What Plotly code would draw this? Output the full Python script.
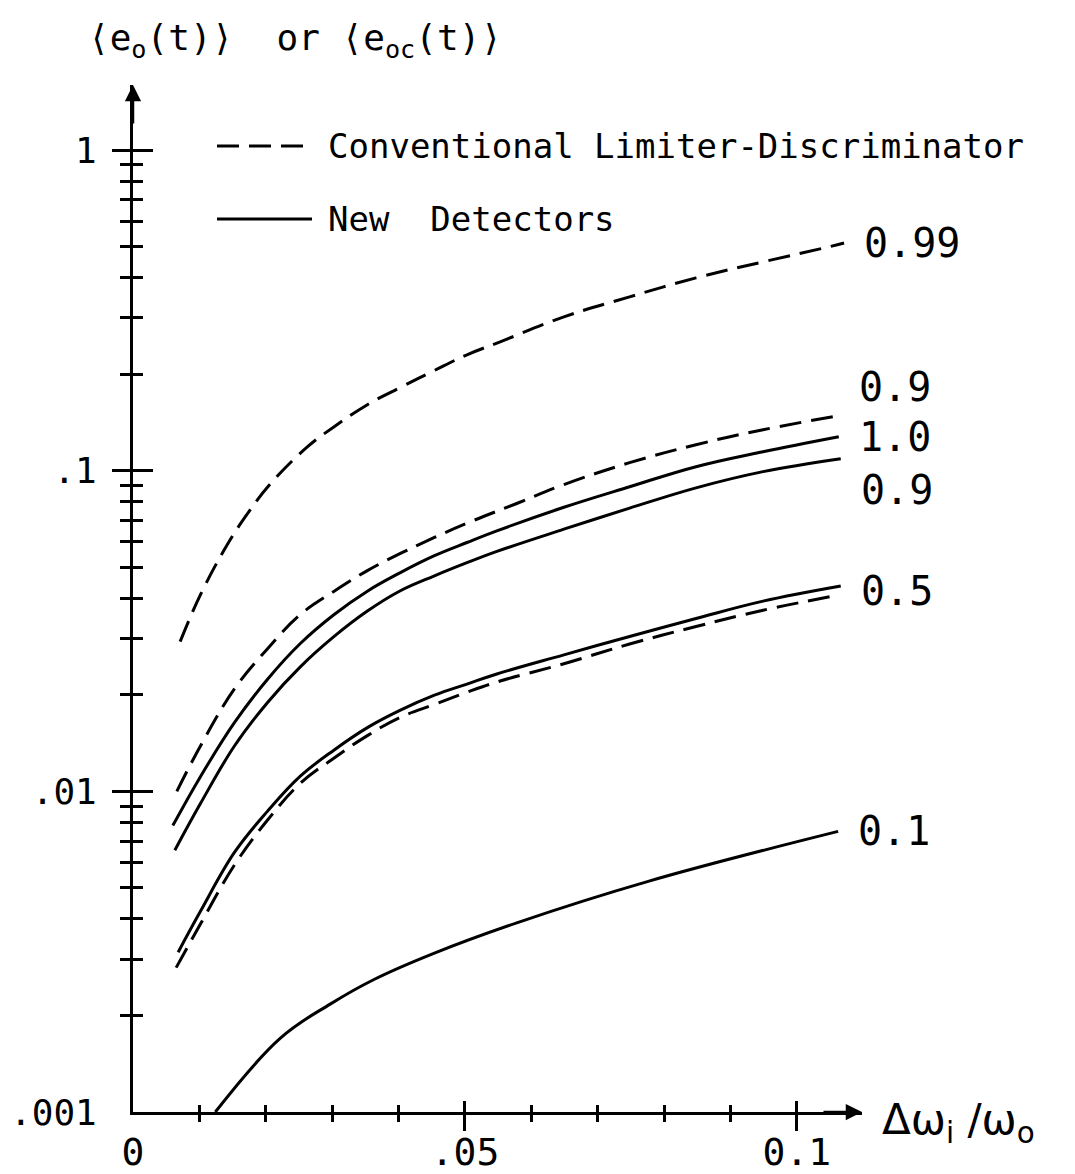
import math
import plotly.graph_objects as go

# ---------------------------------------------------------------------------
# Mean output error <e_o(t)> / <e_oc(t)> versus normalized offset dw_i / w_o
# ---------------------------------------------------------------------------

# Conventional limiter-discriminator (dashed)
conv_099_x = [0.0071, 0.0102, 0.0143, 0.0173, 0.0207, 0.0263, 0.0303, 0.0353, 0.0402,
              0.0454, 0.0503, 0.0553, 0.0649, 0.0748, 0.0848, 0.0949, 0.1048, 0.1071]
conv_099_y = [0.0293, 0.0412, 0.0593, 0.0737, 0.0910, 0.1188, 0.1371, 0.1606, 0.1815,
              0.2054, 0.2298, 0.2522, 0.3018, 0.3484, 0.3992, 0.4479, 0.4989, 0.5131]

conv_09_x = [0.0066, 0.0102, 0.0153, 0.0203, 0.0252, 0.0303, 0.0353, 0.0402,
             0.0454, 0.0503, 0.0578, 0.0649, 0.0748, 0.0848, 0.0949, 0.1063]
conv_09_y = [0.0100, 0.0139, 0.0209, 0.0279, 0.0356, 0.0421, 0.0488, 0.0551,
             0.0619, 0.0686, 0.0790, 0.0905, 0.1059, 0.1205, 0.1342, 0.1484]

conv_05_x = [0.0065, 0.0102, 0.0153, 0.0203, 0.0252, 0.0303, 0.0353, 0.0402,
             0.0454, 0.0503, 0.0553, 0.0649, 0.0748, 0.0848, 0.0949, 0.1063]
conv_05_y = [0.00282, 0.00387, 0.00590, 0.00815, 0.01059, 0.01271, 0.01492, 0.01700,
             0.01867, 0.02037, 0.02208, 0.02500, 0.02880, 0.03266, 0.03671, 0.04093]

# New detectors (solid)
new_10_x = [0.0060, 0.0102, 0.0153, 0.0203, 0.0252, 0.0303, 0.0353, 0.0402,
            0.0454, 0.0503, 0.0548, 0.0649, 0.0748, 0.0848, 0.0949, 0.1063]
new_10_y = [0.00782, 0.01115, 0.0164, 0.0224, 0.0289, 0.0356, 0.0421, 0.0480,
            0.0543, 0.0597, 0.0649, 0.0769, 0.0891, 0.1029, 0.1146, 0.1276]

new_09_x = [0.0063, 0.0102, 0.0153, 0.0203, 0.0252, 0.0303, 0.0353, 0.0402,
            0.0454, 0.0503, 0.0548, 0.0649, 0.0748, 0.0848, 0.0949, 0.1066]
new_09_y = [0.00655, 0.00919, 0.01387, 0.01897, 0.02445, 0.03041, 0.03648, 0.04214,
            0.04699, 0.05164, 0.05600, 0.0657, 0.0764, 0.0884, 0.0993, 0.1090]

new_05_x = [0.0068, 0.0102, 0.0153, 0.0203, 0.0252, 0.0303, 0.0353, 0.0402,
            0.0454, 0.0503, 0.0548, 0.0649, 0.0748, 0.0848, 0.0949, 0.1066]
new_05_y = [0.00315, 0.00424, 0.00646, 0.00869, 0.01115, 0.01346, 0.01580, 0.01788,
            0.01994, 0.02160, 0.02323, 0.02665, 0.03041, 0.03460, 0.03920, 0.04370]

new_01_x = [0.0124, 0.0222, 0.0297, 0.0363, 0.0454, 0.0578, 0.0776, 0.1062]
new_01_y = [0.0010, 0.00170, 0.00217, 0.00259, 0.00313, 0.00389, 0.00524, 0.00750]

curve_labels = ["0.99", "0.9", "1.0", "0.9", "0.5", "0.1"]
legend_labels = ["Conventional Limiter-Discriminator", "New  Detectors"]

# axis ticks
x_tick_vals = [0, 0.05, 0.1]
x_tick_text = ["0", ".05", "0.1"]
x_minor_vals = [0.01, 0.02, 0.03, 0.04, 0.06, 0.07, 0.08, 0.09]
y_tick_vals = [0.001, 0.01, 0.1, 1]
y_tick_text = [".001", ".01", ".1", "1"]
y_minor_vals = [0.002, 0.003, 0.004, 0.005, 0.006, 0.007, 0.008, 0.009,
                0.02, 0.03, 0.04, 0.05, 0.06, 0.07, 0.08, 0.09,
                0.2, 0.3, 0.4, 0.5, 0.6, 0.7, 0.8, 0.9]

y_title = "⟨e<sub>o</sub>(t)⟩  or ⟨e<sub>oc</sub>(t)⟩"
x_title = "Δω<sub>i</sub> /ω<sub>o</sub>"

# ---------------------------------------------------------------------------
FONT = "DejaVu Sans Mono"
FONT_SANS = "DejaVu Sans"
INK = "black"
W, H = 1075, 1174
L, R, T, B = 133, 213, 85, 62
PW, PH = W - L - R, H - T - B
X_MAX = 0.1098
Y_RANGE = [-3, 0.2027]
DASH = "22px,10px"


def paper_x(pix):
    return (pix - L) / PW


def paper_y(pix):
    return (H - B - pix) / PH


fig = go.Figure()

series = [
    (conv_099_x, conv_099_y, DASH),
    (conv_09_x, conv_09_y, DASH),
    (conv_05_x, conv_05_y, DASH),
    (new_10_x, new_10_y, "solid"),
    (new_09_x, new_09_y, "solid"),
    (new_05_x, new_05_y, "solid"),
    (new_01_x, new_01_y, "solid"),
]
for xs, ys, dash in series:
    fig.add_trace(go.Scatter(
        x=xs, y=ys, mode="lines",
        line=dict(color=INK, width=3, dash=dash, shape="spline", smoothing=1.1),
        showlegend=False, hoverinfo="skip",
    ))

# empty traces that bring the overlay axes (crossing tick marks) to life
for ax in ("2", "3"):
    fig.add_trace(go.Scatter(x=[None], y=[None], xaxis="x" + ax, yaxis="y" + ax,
                             showlegend=False, hoverinfo="skip"))

x_major = [v for v in x_tick_vals if v > 0]
y_major = [v for v in y_tick_vals if v > y_tick_vals[0]]

base_x = dict(range=[0, X_MAX], showgrid=False, zeroline=False, automargin=False,
              fixedrange=True)
base_y = dict(type="log", range=Y_RANGE, showgrid=False, zeroline=False,
              automargin=False, fixedrange=True)

fig.update_layout(
    width=W, height=H,
    margin=dict(l=L, r=R, t=T, b=B, pad=0),
    paper_bgcolor="white", plot_bgcolor="white",
    font=dict(family=FONT, color=INK),
    xaxis=dict(**base_x, showline=True, linecolor=INK, linewidth=3,
               tickmode="array", tickvals=x_tick_vals, ticktext=x_tick_text,
               ticks="", tickfont=dict(family=FONT, size=38, color=INK),
               ticklabelstandoff=4,
               minor=dict(tickmode="array", tickvals=x_minor_vals, ticks="outside",
                          ticklen=7, tickwidth=2.5, tickcolor=INK, showgrid=False)),
    xaxis2=dict(**base_x, overlaying="x", anchor="y2", side="bottom", showline=False,
                tickmode="array", tickvals=x_major, ticks="outside", ticklen=18,
                tickwidth=3, tickcolor=INK, showticklabels=False,
                minor=dict(tickmode="array", tickvals=x_minor_vals, ticks="inside",
                           ticklen=7, tickwidth=2.5, tickcolor=INK, showgrid=False)),
    xaxis3=dict(**base_x, overlaying="x", anchor="y3", side="bottom", showline=False,
                tickmode="array", tickvals=x_major, ticks="inside", ticklen=11,
                tickwidth=3, tickcolor=INK, showticklabels=False),
    yaxis=dict(**base_y, showline=True, linecolor=INK, linewidth=3,
               tickmode="array", tickvals=y_tick_vals, ticktext=y_tick_text,
               ticks="", tickfont=dict(family=FONT, size=36, color=INK),
               ticklabelstandoff=26,
               minor=dict(tickmode="array", tickvals=y_minor_vals, ticks="outside",
                          ticklen=10, tickwidth=2.5, tickcolor=INK, showgrid=False)),
    yaxis2=dict(**base_y, overlaying="y", anchor="x2", side="left", showline=False,
                tickmode="array", tickvals=y_major, ticks="outside", ticklen=20,
                tickwidth=3, tickcolor=INK, showticklabels=False,
                minor=dict(tickmode="array", tickvals=y_minor_vals, ticks="inside",
                           ticklen=10, tickwidth=2.5, tickcolor=INK, showgrid=False)),
    yaxis3=dict(**base_y, overlaying="y", anchor="x3", side="left", showline=False,
                tickmode="array", tickvals=y_major, ticks="inside", ticklen=20,
                tickwidth=3, tickcolor=INK, showticklabels=False),
)

annotations = []

# axis arrowheads
annotations.append(dict(x=0, y=1, xref="x", yref="paper", ax=0, ay=40, text="",
                        showarrow=True, arrowhead=2, arrowsize=1.3, arrowwidth=2.5,
                        arrowcolor=INK))
annotations.append(dict(x=1, y=0, xref="paper", yref="paper", ax=-40, ay=0, text="",
                        showarrow=True, arrowhead=2, arrowsize=1.3, arrowwidth=2.5,
                        arrowcolor=INK))

# axis titles
annotations.append(dict(x=paper_x(86), y=paper_y(40), xref="paper", yref="paper",
                        text=y_title, showarrow=False, xanchor="left", yanchor="middle",
                        font=dict(family=FONT, size=36, color=INK)))
annotations.append(dict(x=paper_x(880), y=paper_y(1122), xref="paper", yref="paper",
                        text=x_title, showarrow=False, xanchor="left", yanchor="middle",
                        font=dict(family=FONT_SANS, size=42, color=INK)))

# legend: key lines and their texts
shapes = []
for i, (label, dash) in enumerate(zip(legend_labels, [DASH, "solid"])):
    ypix = 146 + i * 73
    shapes.append(dict(type="line", xref="paper", yref="paper",
                       x0=paper_x(217), x1=paper_x(312), y0=paper_y(ypix), y1=paper_y(ypix),
                       line=dict(color=INK, width=3, dash=dash)))
    annotations.append(dict(x=paper_x(326), y=paper_y(ypix), xref="paper", yref="paper",
                            text=label, showarrow=False, xanchor="left", yanchor="middle",
                            font=dict(family=FONT, size=34, color=INK)))

# curve labels at the right-hand ends
label_anchor = [
    (conv_099_x[-1], conv_099_y[-1], 0),
    (conv_09_x[-1], conv_09_y[-1], 29),
    (new_10_x[-1], new_10_y[-1], 0),
    (new_09_x[-1], new_09_y[-1], -31),
    (new_05_x[-1], math.sqrt(new_05_y[-1] * conv_05_y[-1]), 0),
    (new_01_x[-1], new_01_y[-1], 0),
]
for text, (xa, ya, dy) in zip(curve_labels, label_anchor):
    annotations.append(dict(x=xa, y=math.log10(ya), xref="x", yref="y", text=text,
                            showarrow=False, xanchor="left", yanchor="middle",
                            xshift=18, yshift=dy,
                            font=dict(family=FONT, size=40, color=INK)))

fig.update_layout(annotations=annotations, shapes=shapes)

fig.write_html("out.html")
